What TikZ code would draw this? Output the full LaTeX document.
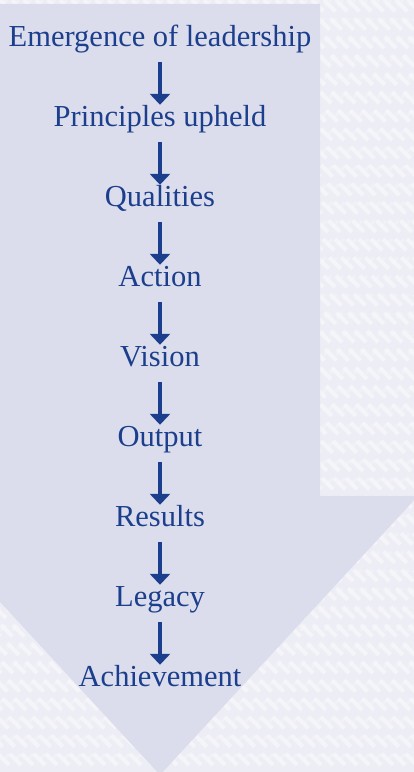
\documentclass[tikz,border=0pt]{standalone}
\usepackage{fontspec}
\setmainfont{Liberation Serif}
\usetikzlibrary{arrows.meta}
\definecolor{bgpaper}{HTML}{EDEEF5}
\definecolor{arrowfill}{HTML}{DCDDEC}
\definecolor{ink}{HTML}{1B3F8C}
\begin{document}
\begin{tikzpicture}[x=1pt,y=1pt,
  stage/.style={text=ink, font=\fontsize{30.5}{33}\selectfont, inner sep=0pt,
    text height=20pt, text depth=8pt, anchor=base},
  flow/.style={draw=ink, line width=3.5pt, -{Triangle[width=20pt,length=11pt]},
    shorten <=7pt, shorten >=2pt}]
% paper background
\fill[bgpaper] (0,0) rectangle (414,772);
\useasboundingbox (0,0) rectangle (414,772);
\begin{scope}
  \clip (0,0) rectangle (414,772);
  % woven texture of the paper
  \foreach \k in {-780,-768,...,420} {
    \draw[white, opacity=0.4, line width=4pt, dash pattern=on 16pt off 10pt]
      (\k,772) -- ++(772,-772);
  }
  \foreach \k in {-5,7,...,1200} {
    \draw[white, opacity=0.2, line width=3pt, dash pattern=on 8pt off 18pt]
      (\k,772) -- ++(-772,-772);
  }
  % big downward arrow
  \fill[arrowfill] (0,768) -- (320,768) -- (320,276) -- (418,276) -- (160,-3)
    -- (-98,276) -- (0,276) -- cycle;
\end{scope}
% stages
\node[stage] (s1) at (160,725) {Emergence of leadership};
\node[stage] (s2) at (160,645) {Principles upheld};
\node[stage] (s3) at (160,565) {Qualities};
\node[stage] (s4) at (160,485) {Action};
\node[stage] (s5) at (160,405) {Vision};
\node[stage] (s6) at (160,325) {Output};
\node[stage] (s7) at (160,245) {Results};
\node[stage] (s8) at (160,165) {Legacy};
\node[stage] (s9) at (160,85) {Achievement};
% connectors
\foreach \a/\b in {s1/s2,s2/s3,s3/s4,s4/s5,s5/s6,s6/s7,s7/s8,s8/s9} {
  \draw[flow] (\a.south) -- (\b.north);
}
\end{tikzpicture}
\end{document}
